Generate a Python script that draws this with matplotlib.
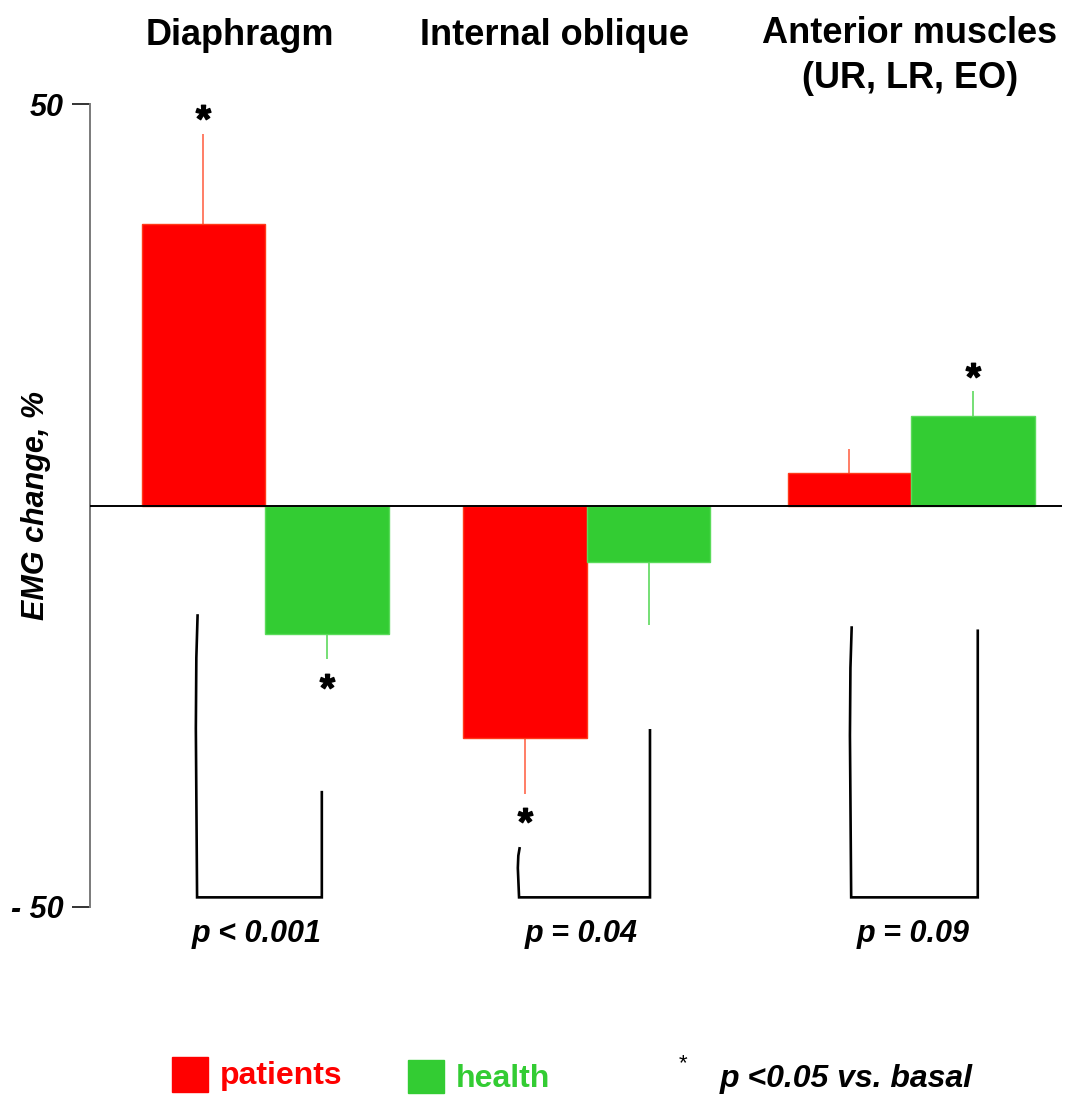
import matplotlib
matplotlib.use("Agg")
import matplotlib.pyplot as plt
from matplotlib.patches import Rectangle
from matplotlib.textpath import TextPath
from matplotlib.font_manager import FontProperties
from matplotlib.transforms import Affine2D

# ---- data -------------------------------------------------------------
groups = ["Diaphragm", "Internal oblique", "Anterior muscles\n(UR, LR, EO)"]
patients = [35.0, -29.0, 4.1]
patients_err = [11.3, 6.9, 2.9]
health = [-16.0, -7.0, 11.1]
health_err = [3.1, 7.9, 3.1]
patients_sig = [True, True, False]
health_sig = [True, False, True]
p_values = ["p < 0.001", "p = 0.04", "p = 0.09"]
y_ticks = [50, -50]
y_tick_labels = ["50", "- 50"]

# ---- style ------------------------------------------------------------
RED = "#FF0000"
GREEN = "#33CC33"
RED_ERR = "#FF5A3C"
GREEN_ERR = "#4FD64F"
SANS = ["Liberation Sans", "DejaVu Sans"]
plt.rcParams["font.family"] = SANS

W, H = 1068, 1095
fig = plt.figure(figsize=(W / 100, H / 100), dpi=100)
ax = fig.add_axes([90 / W, 1 - 907 / H, (1062 - 90) / W, (907 - 104) / H])


def fx(px):
    return px / W


def fy(py):
    return 1 - py / H


centers = [0.0, 2.607, 5.231]
bw = 1.0
xp = [c - bw / 2 for c in centers]
xh = [c + bw / 2 for c in centers]

ax.bar(xp, patients, width=bw, color=RED, edgecolor="#FF3A1A", linewidth=1.0, zorder=2)
ax.bar(xh, health, width=bw, color=GREEN, edgecolor="#5ADB5A", linewidth=1.0, zorder=2)


def one_sided(vals, errs):
    lo = [e if v < 0 else 0 for v, e in zip(vals, errs)]
    hi = [e if v >= 0 else 0 for v, e in zip(vals, errs)]
    return [lo, hi]


ax.errorbar(xp, patients, yerr=one_sided(patients, patients_err), fmt="none",
            ecolor=RED_ERR, elinewidth=1.1, capsize=0, zorder=1)
ax.errorbar(xh, health, yerr=one_sided(health, health_err), fmt="none",
            ecolor=GREEN_ERR, elinewidth=1.1, capsize=0, zorder=1)

# significance asterisks beyond the error bars (glyph centred on its ink)
star = TextPath((0, 0), "*", prop=FontProperties(family=SANS, weight="bold"))
ext = star.get_extents()
star = star.transformed(Affine2D().translate(-(ext.x0 + ext.x1) / 2,
                                             -(ext.y0 + ext.y1) / 2))


def mark(xs, vals, errs, sig):
    for x, v, e, s in zip(xs, vals, errs, sig):
        if not s:
            continue
        sgn = 1 if v >= 0 else -1
        ax.plot(x, v + sgn * (e + 2.7), marker=star, markersize=28,
                color="black", linestyle="none", zorder=3, clip_on=False)


mark(xp, patients, patients_err, patients_sig)
mark(xh, health, health_err, health_sig)

# zero line
ax.axhline(0, color="black", linewidth=1.4, zorder=4)

# brackets comparing patients vs health in each group
bracket_tops = [(-13.7, -35.7), (-42.7, -28.0), (-15.2, -15.6)]
bracket_dx = [(-0.05, -0.04), (-0.05, 0.01), (0.015, 0.04)]
bottom = -48.8
for c, (lt, rt), (dl, dr) in zip(centers, bracket_tops, bracket_dx):
    xl = c - bw / 2 + dl
    xr = c + bw / 2 + dr
    ys = [lt, lt + (bottom - lt) * 0.15, lt + (bottom - lt) * 0.4, bottom]
    xs = [xl + 0.004, xl - 0.006, xl - 0.01, xl]
    ax.plot(xs + [xr, xr], ys + [bottom, rt], color="black", linewidth=1.9,
            solid_joinstyle="miter", zorder=3)

# axes styling
ax.set_xlim(-1.417, 6.453)
ax.set_ylim(-50, 50)
for s in ["top", "right", "bottom"]:
    ax.spines[s].set_visible(False)
ax.spines["left"].set_color("#7a7a7a")
ax.spines["left"].set_linewidth(1.4)
ax.set_xticks([])
ax.set_yticks(y_ticks)
ax.set_yticklabels(y_tick_labels, fontsize=22, fontweight="bold", fontstyle="italic")
ax.tick_params(axis="y", length=13, width=1.4, color="#333333", pad=6)
ax.set_ylabel("EMG change, %", fontsize=22, fontweight="bold", fontstyle="italic")
ax.yaxis.set_label_coords(-39 / 972, 0.5)

# group titles (one text per line)
title_pos = [(240, 45), (555, 45), (910, 43)]
for name, (px, py) in zip(groups, title_pos):
    for i, line in enumerate(name.split("\n")):
        fig.text(fx(px), fy(py + 45 * i), line, ha="center", va="baseline",
                 fontsize=26, fontweight="bold")

# p-values under the brackets
p_pos = [257, 581, 913]
for txt, px in zip(p_values, p_pos):
    fig.text(fx(px), fy(942), txt, ha="center", va="baseline", fontsize=22,
             fontweight="bold", fontstyle="italic")

# legend
fig.patches.append(Rectangle((fx(172), fy(1092)), 36 / W, 35 / H,
                             transform=fig.transFigure, color=RED))
fig.patches.append(Rectangle((fx(408), fy(1093)), 36 / W, 33 / H,
                             transform=fig.transFigure, color=GREEN))
fig.text(fx(220), fy(1084), "patients", color=RED, fontsize=23, fontweight="bold",
         va="baseline")
fig.text(fx(456), fy(1087), "health", color=GREEN, fontsize=23, fontweight="bold",
         va="baseline")
fig.text(fx(683), fy(1064), "*", fontsize=16, ha="center", va="center")
fig.text(fx(720), fy(1087), "p <0.05 vs. basal", fontsize=23, fontweight="bold",
         fontstyle="italic", va="baseline")

fig.savefig("out.png", dpi=100)
